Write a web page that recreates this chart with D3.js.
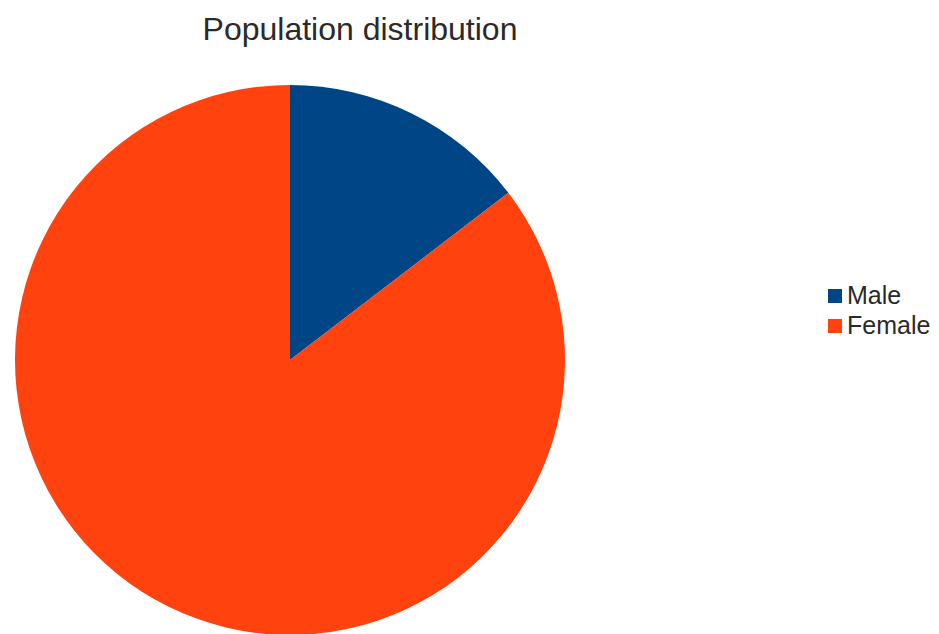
<!DOCTYPE html>
<html>
<head>
<meta charset="utf-8">
<script src="https://cdn.jsdelivr.net/npm/d3@7"></script>
<style>
  html, body { margin: 0; padding: 0; background: #ffffff; }
  svg { display: block; }
</style>
</head>
<body>
<svg id="chart" width="939" height="634"></svg>
<script>
// Population split by sex (percent)
const categories = ["Male", "Female"];
const values = [14.6, 85.4];
const colors = ["#004586", "#ff420e"];
const title = "Population distribution";

const svg = d3.select("#chart");
const cx = 290, cy = 360, radius = 275;

svg.append("text")
  .attr("x", 360)
  .attr("y", 40)
  .attr("text-anchor", "middle")
  .attr("font-family", "Liberation Sans, Arial, sans-serif")
  .attr("font-size", 32)
  .attr("fill", "#2a2a2a")
  .text(title);

const data = categories.map((c, i) => ({ name: c, value: values[i] }));
const color = d3.scaleOrdinal().domain(categories).range(colors);

const pie = d3.pie().sort(null).value(d => d.value);
const arc = d3.arc().innerRadius(0).outerRadius(radius);

svg.append("g")
  .attr("transform", `translate(${cx},${cy})`)
  .selectAll("path")
  .data(pie(data))
  .join("path")
  .attr("d", arc)
  .attr("fill", d => color(d.data.name));

// Legend
const legend = svg.append("g").attr("transform", "translate(828,288)");
const rows = legend.selectAll("g")
  .data(categories)
  .join("g")
  .attr("transform", (d, i) => `translate(0,${i * 30})`);

rows.append("rect")
  .attr("y", 1)
  .attr("width", 14)
  .attr("height", 14)
  .attr("fill", d => color(d));

rows.append("text")
  .attr("x", 19)
  .attr("y", 16)
  .attr("font-family", "Liberation Sans, Arial, sans-serif")
  .attr("font-size", 25)
  .attr("fill", "#2a2a2a")
  .text(d => d);
</script>
</body>
</html>
